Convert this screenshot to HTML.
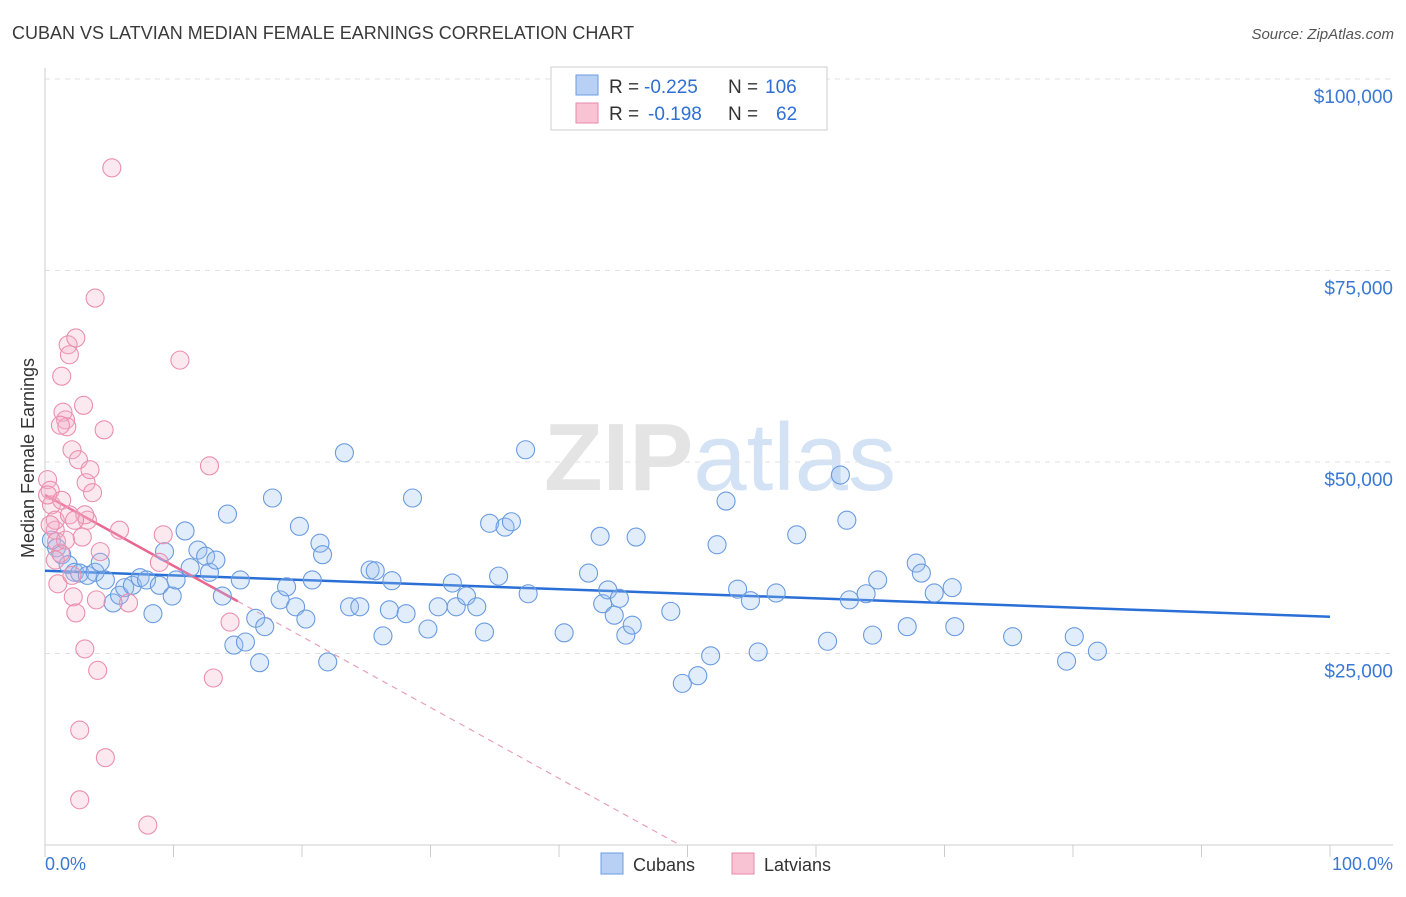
<!DOCTYPE html>
<html><head><meta charset="utf-8"><style>
body{margin:0;background:#fff;font-family:"Liberation Sans",sans-serif;}
svg text{font-family:"Liberation Sans",sans-serif;}
</style></head><body>
<svg id="chart" width="1406" height="892" viewBox="0 0 1406 892" xmlns="http://www.w3.org/2000/svg">
<text x="12" y="39" font-size="18" fill="#3a3a3a">CUBAN VS LATVIAN MEDIAN FEMALE EARNINGS CORRELATION CHART</text>
<text x="1394" y="39" font-size="15" fill="#555" text-anchor="end" font-style="italic">Source: ZipAtlas.com</text>
<text x="720" y="490" font-size="96" text-anchor="middle" fill="#e4e4e4" font-family="Liberation Serif" font-weight="bold">ZIP<tspan fill="#d3e2f5" font-family="Liberation Sans" font-weight="normal">atlas</tspan></text>
<g id="grid"></g>
<g id="axes"></g>
<g id="trend"></g>
<g id="pts"></g>
<text transform="translate(34,458) rotate(-90)" font-size="18" fill="#333" text-anchor="middle">Median Female Earnings</text>
<text x="45" y="870" font-size="18" fill="#3a78d4">0.0%</text>
<text x="1393" y="870" font-size="18" fill="#3a78d4" text-anchor="end">100.0%</text>
<g>
<rect x="551" y="67" width="276" height="63" fill="#fff" stroke="#ccc"/>
<rect x="576" y="75" width="22" height="20" fill="#b7d0f3" stroke="#6a9be0"/>
<rect x="576" y="103" width="22" height="20" fill="#f8c4d4" stroke="#e889a9"/>
<text x="609" y="93" font-size="19" fill="#333">R =</text>
<text x="644" y="93" font-size="19" fill="#2f6fd3">-0.225</text>
<text x="728" y="93" font-size="19" fill="#333">N =</text>
<text x="765" y="93" font-size="19" fill="#2f6fd3">106</text>
<text x="609" y="120" font-size="19" fill="#333">R =</text>
<text x="648" y="120" font-size="19" fill="#2f6fd3">-0.198</text>
<text x="728" y="120" font-size="19" fill="#333">N =</text>
<text x="776" y="120" font-size="19" fill="#2f6fd3">62</text>
</g>
<g>
<rect x="601" y="853" width="22" height="21" fill="#b7d0f3" stroke="#6a9be0"/>
<text x="633" y="871" font-size="18" fill="#333">Cubans</text>
<rect x="732" y="853" width="22" height="21" fill="#f8c4d4" stroke="#e889a9"/>
<text x="764" y="871" font-size="18" fill="#333">Latvians</text>
</g>
</svg>
<script>
const yTicks=[25000,50000,75000,100000];
const yTickLabels=["$25,000","$50,000","$75,000","$100,000"];
const cubanX=[0.5,0.9,1.3,1.8,2.3,2.7,3.3,3.9,4.3,4.7,5.3,5.8,6.2,6.8,7.4,7.9,8.4,8.9,9.3,9.9,10.2,10.9,11.3,11.9,12.5,12.8,13.3,13.8,14.2,14.7,15.2,15.6,16.4,16.7,17.1,17.7,18.3,18.8,19.5,19.8,20.3,20.8,21.4,21.6,22.0,23.3,23.7,24.5,25.3,25.7,26.3,26.8,27.0,28.1,28.6,29.8,30.6,31.7,32.0,32.8,33.6,34.2,34.6,35.3,35.8,36.3,37.4,37.6,40.4,42.3,43.2,43.4,43.8,44.3,44.7,45.2,45.7,46.0,48.7,49.6,50.8,51.8,52.3,53.0,53.9,54.9,55.5,56.9,58.5,60.9,61.9,62.4,62.6,63.9,64.4,64.8,67.1,67.8,68.2,69.2,70.6,70.8,75.3,79.5,80.1,81.9];
const cubanY=[39.8,38.8,37.9,36.6,35.6,35.5,35.2,35.6,36.9,34.6,31.6,32.6,33.6,33.9,34.9,34.6,30.2,33.9,38.3,32.5,34.6,41.0,36.2,38.5,37.7,35.6,37.2,32.5,43.2,26.1,34.6,26.5,29.6,23.8,28.5,45.3,32.0,33.7,31.1,41.6,29.5,34.6,39.4,37.9,23.9,51.2,31.1,31.1,35.9,35.8,27.3,30.7,34.5,30.2,45.3,28.2,31.1,34.2,31.1,32.5,31.1,27.8,42.0,35.1,41.5,42.2,51.6,32.8,27.7,35.5,40.3,31.5,33.3,30.0,32.2,27.4,28.7,40.2,30.5,21.1,22.1,24.7,39.2,44.9,33.4,31.9,25.2,32.9,40.5,26.6,48.3,42.4,32.0,32.8,27.4,34.6,28.5,36.8,35.5,32.9,33.6,28.5,27.2,24.0,27.2,25.3];
const latvianX=[0.2,0.4,0.5,0.2,0.8,0.9,1.2,1.3,1.0,1.3,1.4,1.6,1.7,1.8,1.9,2.1,2.1,2.2,2.4,2.4,2.6,2.7,2.7,2.9,3.0,3.1,3.2,3.3,3.7,3.9,4.0,4.1,4.3,4.6,4.7,5.2,5.8,6.5,8.0,8.9,9.2,10.5,12.8,13.1,14.4,0.8,0.4,0.8,1.6,1.9,3.1,3.5,1.2,2.3];
const latvianY=[47.7,46.3,44.4,45.7,41.1,39.6,38.1,45.0,34.1,61.2,56.5,55.5,54.6,65.3,64.0,51.6,35.2,32.4,30.3,66.2,50.3,15.0,5.9,40.2,57.4,25.6,47.3,42.4,46.0,71.4,32.0,22.8,38.3,54.2,11.4,88.4,41.1,31.6,2.6,36.9,40.5,63.3,49.5,21.8,29.1,42.4,41.8,37.2,39.8,43.1,43.1,49.0,54.8,42.4];
const cubanTrend=[35.8,29.8];
const latvianTrend=[45.7,-0.925];
const NS="http://www.w3.org/2000/svg";
const X0=45,X1=1330,Y0=845,YTOP=79;
const xs=p=>X0+(X1-X0)*p/100;
const ys=k=>Y0-(Y0-YTOP)*k/100;
function mk(tag,attrs,parent){const e=document.createElementNS(NS,tag);for(const k in attrs)e.setAttribute(k,attrs[k]);parent.appendChild(e);return e;}
const grid=document.getElementById('grid'),axes=document.getElementById('axes'),trend=document.getElementById('trend'),pts=document.getElementById('pts');
yTicks.forEach((v,i)=>{
 const y=ys(v/1000);
 const l=mk('line',{x1:X0,x2:1393,y1:y,y2:y,stroke:'#e2e2e2','stroke-dasharray':'5,5'},grid);
 
 
 const t=mk('text',{x:1393,y:y+24,'font-size':19,fill:'#3a78d4','text-anchor':'end'},grid);
 t.textContent=yTickLabels[i];
 
 
});
mk('line',{x1:X0,x2:X0,y1:68,y2:Y0,stroke:'#ccc'},axes);
mk('line',{x1:X0,x2:1393,y1:Y0,y2:Y0,stroke:'#ccc'},axes);
for(let p=0;p<=100;p+=10){
 const t=mk('line',{x1:xs(p),x2:xs(p),y1:Y0,y2:Y0+12,stroke:'#ccc'},axes);
 
 
}
const bt=mk('line',{x1:xs(0),y1:ys(cubanTrend[0]),x2:xs(100),y2:ys(cubanTrend[1]),stroke:'#2a6fd6','stroke-width':2.5},trend);


const zx=-latvianTrend[0]/latvianTrend[1];
const pd=mk('line',{x1:xs(15),y1:ys(latvianTrend[0]+latvianTrend[1]*15),x2:xs(zx),y2:ys(0),stroke:'#e8a0b8','stroke-width':1.2,'stroke-dasharray':'6,5'},trend);


const ps=mk('line',{x1:xs(0),y1:ys(latvianTrend[0]),x2:xs(15),y2:ys(latvianTrend[0]+latvianTrend[1]*15),stroke:'#e8668f','stroke-width':2.5},trend);


cubanX.forEach((x,i)=>{
 const c=mk('circle',{cx:xs(x),cy:ys(cubanY[i]),r:9,fill:'rgba(150,190,240,0.28)',stroke:'#6a9be0','stroke-width':1.1},pts);
 
 
});
latvianX.forEach((x,i)=>{
 const c=mk('circle',{cx:xs(x),cy:ys(latvianY[i]),r:9,fill:'rgba(245,175,200,0.28)',stroke:'#ea8fae','stroke-width':1.1},pts);
 
 
});
</script>
</body></html>
